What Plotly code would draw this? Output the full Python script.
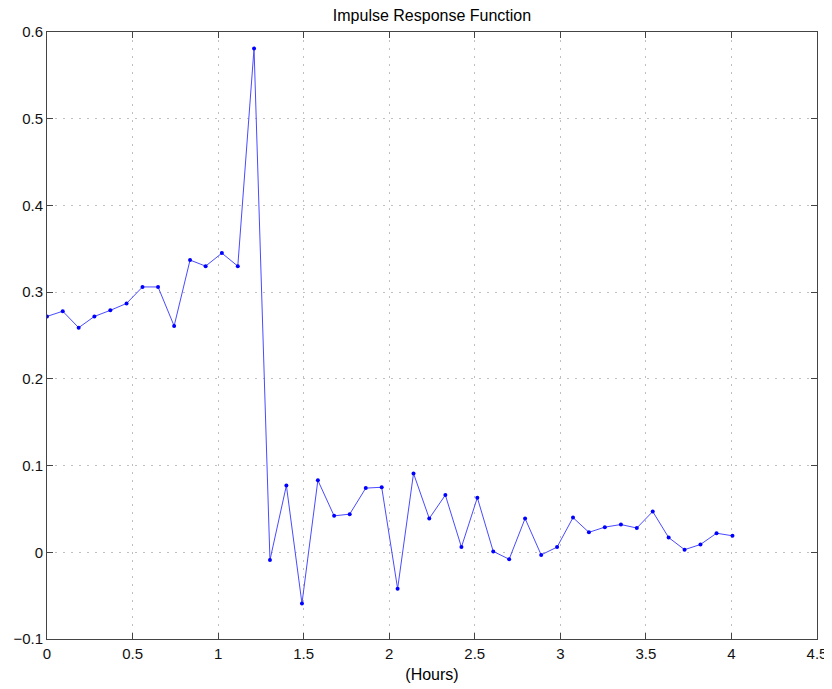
import plotly.graph_objects as go

hours = [0.000, 0.092, 0.185, 0.277, 0.370, 0.465, 0.558, 0.649, 0.743, 0.836,
         0.927, 1.022, 1.115, 1.210, 1.303, 1.399, 1.490, 1.583, 1.678, 1.769,
         1.863, 1.956, 2.049, 2.142, 2.234, 2.328, 2.422, 2.515, 2.608, 2.701,
         2.794, 2.888, 2.981, 3.074, 3.167, 3.260, 3.354, 3.447, 3.540, 3.633,
         3.726, 3.819, 3.913, 4.006]
response = [0.272, 0.278, 0.259, 0.272, 0.279, 0.287, 0.306, 0.306, 0.261, 0.337,
            0.330, 0.345, 0.330, 0.581, -0.009, 0.077, -0.059, 0.083, 0.042, 0.044,
            0.074, 0.075, -0.042, 0.091, 0.039, 0.066, 0.006, 0.063, 0.001, -0.008,
            0.039, -0.003, 0.006, 0.040, 0.023, 0.029, 0.032, 0.028, 0.047, 0.017,
            0.003, 0.009, 0.022, 0.019]

x_ticks = [0, 0.5, 1, 1.5, 2, 2.5, 3, 3.5, 4, 4.5]
x_tick_labels = ["0", "0.5", "1", "1.5", "2", "2.5", "3", "3.5", "4", "4.5"]
y_ticks = [-0.1, 0, 0.1, 0.2, 0.3, 0.4, 0.5, 0.6]
y_tick_labels = ["\u22120.1", "0", "0.1", "0.2", "0.3", "0.4", "0.5", "0.6"]

FONT = "Liberation Sans, Arial, sans-serif"

fig = go.Figure()
fig.add_trace(go.Scatter(
    x=hours, y=response, mode="lines+markers",
    line=dict(color="#4a4aff", width=1),
    marker=dict(color="#0000ff", size=4),
    showlegend=False,
))

axis_common = dict(
    showline=True, linecolor="#444", linewidth=1, mirror="ticks",
    ticks="inside", ticklen=6, tickcolor="#444",
    showgrid=True, gridcolor="#c0c0c0", griddash="2px,6px", gridwidth=1,
    zeroline=False, automargin=False,
    tickfont=dict(family=FONT, size=15, color="#111"),
)

# the page body adds an 8px offset, so the figure is sized to fit the window
fig.update_layout(
    width=824, height=681,
    margin=dict(l=39, r=15, t=24, b=50),
    paper_bgcolor="white", plot_bgcolor="white",
    title=dict(text="Impulse Response Function", x=0.5, xref="paper", xanchor="center",
               yref="container", y=0.998, yanchor="top", pad=dict(t=0),
               font=dict(family=FONT, size=16, color="#000")),
    xaxis=dict(range=[0, 4.5], tickvals=x_ticks, ticktext=x_tick_labels,
               ticklabelstandoff=1,
               title=dict(text="(Hours)", standoff=7,
                          font=dict(family=FONT, size=16, color="#000")),
               **axis_common),
    yaxis=dict(range=[-0.1, 0.6], tickvals=y_ticks, ticktext=y_tick_labels,
               **axis_common),
)

fig.write_html("out.html")
